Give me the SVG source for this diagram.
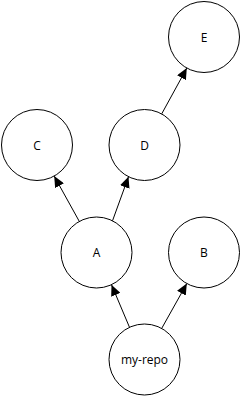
<svg xmlns="http://www.w3.org/2000/svg" width="241" height="397" viewBox="0 0 241 397">
  <defs>
    <style>
      .node circle { fill: #ffffff; stroke: #000000; stroke-width: 1; }
      .node text { font-family: "Open Sans", "Noto Sans", sans-serif; font-size: 12px; fill: #000000; text-anchor: middle; dominant-baseline: central; }
      .edge { stroke: #000000; stroke-width: 1; fill: none; marker-end: url(#arrow); }
    </style>
    <marker id="arrow" markerUnits="userSpaceOnUse" markerWidth="12" markerHeight="10" refX="11" refY="5" orient="auto">
      <path d="M0,0 L11,5 L0,10 Z" fill="#000000"/>
    </marker>
  </defs>
  <rect width="241" height="397" fill="#ffffff"/>
  <g id="connectors">
    <line class="edge" x1="79.3" y1="221.4" x2="54.2" y2="176.1"/>
    <line class="edge" x1="112.5" y1="220.8" x2="128.5" y2="176.7"/>
    <line class="edge" x1="161.7" y1="113.9" x2="186.8" y2="68.1"/>
    <line class="edge" x1="129.5" y1="327.3" x2="111.5" y2="284.7"/>
    <line class="edge" x1="161.7" y1="328.4" x2="186.8" y2="283.6"/>
  </g>
  <g id="node-E" class="node"><circle cx="204" cy="37" r="35.5"/><text x="204" y="37">E</text></g>
  <g id="node-C" class="node"><circle cx="37" cy="145" r="35.5"/><text x="37" y="145">C</text></g>
  <g id="node-D" class="node"><circle cx="144.5" cy="145" r="35.5"/><text x="144.5" y="145">D</text></g>
  <g id="node-A" class="node"><circle cx="96.5" cy="252.5" r="35.5"/><text x="96.5" y="252.5">A</text></g>
  <g id="node-B" class="node"><circle cx="204" cy="252.5" r="35.5"/><text x="204" y="252.5">B</text></g>
  <g id="node-my-repo" class="node"><circle cx="144.5" cy="359.5" r="35.5"/><text x="144.5" y="359.5">my-repo</text></g>
</svg>
